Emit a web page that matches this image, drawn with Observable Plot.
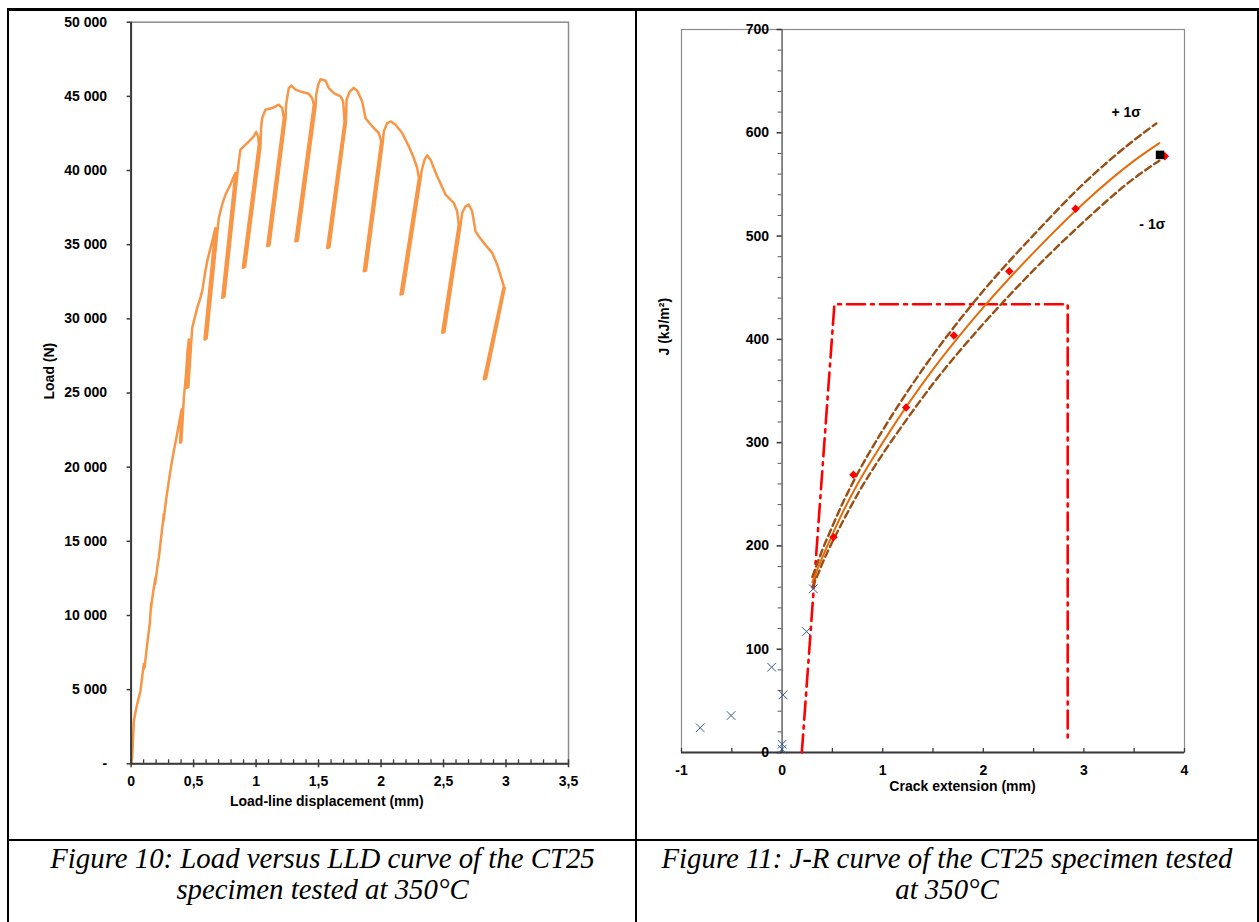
<!DOCTYPE html>
<html><head><meta charset="utf-8">
<script src="https://cdn.jsdelivr.net/npm/d3@7"></script>
<script src="https://cdn.jsdelivr.net/npm/@observablehq/plot@0.6"></script>
<style>
html,body{margin:0;padding:0;background:#fff;}
body{width:1259px;height:922px;position:relative;overflow:hidden;font-family:"Liberation Sans",Arial,sans-serif;}
.line{position:absolute;background:#000;z-index:2;}
.cap{position:absolute;font-family:"Liberation Serif","Times New Roman",serif;font-style:italic;font-size:28.8px;line-height:31px;text-align:center;color:#000;}
.chart{position:absolute;top:0;}
.chart svg{display:block;max-width:none;}
</style></head><body>
<div class="line" style="left:7px;top:8px;width:1252px;height:3px"></div>
<div class="line" style="left:7px;top:8px;width:2px;height:914px"></div>
<div class="line" style="left:635px;top:8px;width:2px;height:914px"></div>
<div class="line" style="left:7px;top:839px;width:1252px;height:2px"></div>
<div class="line" style="left:1257px;top:8px;width:2px;height:914px"></div>
<div id="left" class="chart" style="left:0;width:636px"></div>
<div id="right" class="chart" style="left:636px;width:623px"></div>
<div class="cap" style="left:9px;width:627px;top:843px">Figure 10: Load versus LLD curve of the CT25<br>specimen tested at 350°C</div>
<div class="cap" style="left:637px;width:620px;top:843px">Figure 11: J-R curve of the CT25 specimen tested<br>at 350°C</div>
<script>
// ---------- Figure 10 data: load vs load-line displacement ----------
const lldX = [0.000,0.009,0.022,0.045,0.075,0.095,0.102,0.098,0.108,0.129,0.150,0.160,0.156,0.175,0.195,0.192,0.212,0.222,0.245,0.262,0.258,0.280,0.302,0.325,0.342,0.365,0.382,0.405,0.392,0.402,0.422,0.440,0.450,0.462,0.445,0.458,0.475,0.489,0.510,0.529,0.550,0.569,0.590,0.609,0.630,0.649,0.675,0.587,0.605,0.692,0.702,0.729,0.755,0.795,0.822,0.835,0.729,0.747,0.850,0.862,0.875,0.929,0.982,1.001,1.017,1.022,0.894,0.912,1.035,1.040,1.049,1.075,1.129,1.182,1.209,1.222,1.089,1.107,1.236,1.240,1.262,1.281,1.316,1.369,1.422,1.449,1.462,1.315,1.333,1.476,1.481,1.497,1.516,1.556,1.582,1.622,1.676,1.697,1.708,1.569,1.587,1.720,1.724,1.750,1.782,1.809,1.849,1.876,1.929,1.982,2.001,1.862,1.880,2.014,2.022,2.049,2.081,2.116,2.169,2.222,2.262,2.289,2.303,2.156,2.174,2.316,2.324,2.348,2.369,2.396,2.449,2.516,2.582,2.609,2.622,2.489,2.507,2.636,2.649,2.676,2.702,2.729,2.756,2.782,2.822,2.889,2.929,2.970,2.982,2.822,2.840,2.990];
const lldLoad = [0,440,2900,3900,4930,6300,6730,6350,6500,8080,9500,10800,10300,11500,12560,12100,13400,13910,15600,16830,16300,17800,19080,20300,21090,22100,22890,23900,21650,21700,24680,26300,27700,28600,25350,25400,27600,29400,30100,30740,31300,31870,33000,33890,34600,35230,36130,28600,28700,36000,36810,37710,38380,39050,39610,39830,31420,31500,39700,40620,41410,41850,42300,42600,42300,41740,33440,33500,41600,42860,43540,44100,44210,44440,44210,43540,34900,34950,43500,44440,45560,45720,45450,45290,45180,44880,44440,35230,35280,44300,45110,45780,46160,46050,45560,45220,45000,44660,43310,34780,34830,43300,44770,45330,45560,45380,44660,43530,42980,42530,41970,33210,33260,41900,42640,43200,43310,43090,42530,41630,40840,40170,39500,31640,31690,39400,39950,40730,41020,40730,39610,38380,37810,37250,36360,29060,29110,36300,37140,37590,37700,37250,35900,35570,35120,34450,33670,32540,32200,25920,25970,32100];
const loadTicks = [0,5000,10000,15000,20000,25000,30000,35000,40000,45000,50000];
const loadTickLabels = ["-","5 000","10 000","15 000","20 000","25 000","30 000","35 000","40 000","45 000","50 000"];
const lldTicks = [0,0.5,1,1.5,2,2.5,3,3.5];
const lldTickLabels = ["0","0,5","1","1,5","2","2,5","3","3,5"];
const lldMinorTicks = [0.1,0.2,0.3,0.4,0.6,0.7,0.8,0.9,1.1,1.2,1.3,1.4,1.6,1.7,1.8,1.9,2.1,2.2,2.3,2.4,2.6,2.7,2.8,2.9,3.1,3.2,3.3,3.4];

// ---------- Figure 11 data: J-R curve ----------
const fitX   = [0.30,0.35,0.40,0.50,0.60,0.75,1.00,1.25,1.50,1.75,2.00,2.50,3.00,3.50,3.75];
const fitJ   = [165,177,189,211,232,260,300,337,371,402,431,484,532,573,590];
const upperX = [0.30,0.35,0.40,0.50,0.60,0.75,1.00,1.25,1.50,1.75,2.00,2.50,3.00,3.50,3.72];
const upperJ = [170,183,196,219,241,270,312,350,385,417,447,501,551,593,609];
const lowerX = [0.30,0.35,0.40,0.50,0.60,0.75,1.00,1.25,1.50,1.75,2.00,2.50,3.00,3.50,3.75];
const lowerJ = [160,171,183,204,223,250,289,324,357,387,415,467,514,556,573];
const validX = [0.511,0.709,1.233,1.707,2.258,2.917,3.805];
const validJ = [208.5,269,334,403.7,466,526.4,577.3];
const bluntX = [-0.814,-0.507,-0.104,0.01,0,0,0.243,0.31];
const bluntJ = [23.9,35.8,82.6,55.8,8,3.2,117,158.5];
const lastX = [3.757];
const lastJ = [578.6];
const limitX = [0.196,0.52,2.839,2.839];
const limitJ = [0,434,434,9];
const sigmaLabels = ["+ 1σ","- 1σ"];
const sigmaX = [3.42,3.68];
const sigmaJ = [619.6,511];
const jTicks = [0,100,200,300,400,500,600,700];
const jMinorTicks = [20,40,60,80,120,140,160,180,220,240,260,280,320,340,360,380,420,440,460,480,520,540,560,580,620,640,660,680];
const daTicks = [-1,0,1,2,3,4];
const daHalfTicks = [-1,-0.5,0,0.5,1,1.5,2,2.5,3,3.5,4];

const font = {fontFamily: "'Liberation Sans', Arial, sans-serif", fontSize: "14px", fontWeight: "bold", background: "transparent", color: "#000", overflow: "visible"};
const zip = (xs, ys) => xs.map((x, i) => ({x, y: ys[i]}));

// ---------- left chart ----------
const left = Plot.plot({
  width: 636, height: 830,
  marginLeft: 130.6, marginRight: 68, marginTop: 21.7, marginBottom: 66.7,
  x: {domain: [0, 3.5], axis: null},
  y: {domain: [0, 50000], axis: null},
  style: font,
  marks: [
    Plot.frame({stroke: "#8c8c8c", strokeWidth: 1.5}),
    Plot.line(zip(lldX, lldLoad), {x: "x", y: "y", stroke: "#F79646", strokeWidth: 2.5, strokeLinejoin: "round"}),
    Plot.ruleY([0], {stroke: "#3a3a3a", strokeWidth: 2}),
    Plot.ruleX([0], {stroke: "#3a3a3a", strokeWidth: 2}),
    Plot.ruleY(loadTicks, {y: d => d, x1: 0, x2: 0, insetLeft: -4, stroke: "#3a3a3a", strokeWidth: 1.5}),
    Plot.ruleX(lldMinorTicks, {x: d => d, y1: 0, y2: 0, insetTop: -4, stroke: "#3a3a3a", strokeWidth: 1.3}),
    Plot.ruleX(lldTicks, {x: d => d, y1: 0, y2: 0, insetTop: -4, insetBottom: -4, stroke: "#3a3a3a", strokeWidth: 1.5}),
    Plot.text(loadTicks, {x: 0, y: d => d, text: (d, i) => loadTickLabels[i], textAnchor: "end", dx: -24}),
    Plot.text(lldTicks, {x: d => d, y: 0, text: (d, i) => lldTickLabels[i], dy: 18}),
    Plot.text(["Load-line displacement (mm)"], {frameAnchor: "bottom", dy: 42, dx: -23}),
    Plot.text(["Load (N)"], {frameAnchor: "left", rotate: -90, dx: -81.6, dy: 6.5})
  ]
});
document.getElementById("left").append(left);

// ---------- right chart ----------
const right = Plot.plot({
  width: 623, height: 830,
  marginLeft: 45, marginRight: 75, marginTop: 29, marginBottom: 78,
  x: {domain: [-1, 4], axis: null},
  y: {domain: [0, 700], axis: null},
  style: font,
  marks: [
    Plot.frame({stroke: "#8c8c8c", strokeWidth: 1.2}),
    Plot.ruleY([0], {stroke: "#3a3a3a", strokeWidth: 2}),
    Plot.ruleX([0], {y1: 0, y2: 700, stroke: "#6e6e6e", strokeWidth: 1.6}),
    Plot.ruleY(jMinorTicks, {y: d => d, x1: 0, x2: 0, insetLeft: -4, stroke: "#555", strokeWidth: 1}),
    Plot.ruleY(jTicks, {y: d => d, x1: 0, x2: 0, insetLeft: -5, stroke: "#333", strokeWidth: 1.5}),
    Plot.ruleX(daHalfTicks, {x: d => d, y1: 0, y2: 0, insetTop: -4, stroke: "#3a3a3a", strokeWidth: 1.3}),
    Plot.text(jTicks, {x: 0, y: d => d, text: d => String(d), textAnchor: "end", dx: -13}),
    Plot.text(daTicks, {x: d => d, y: 0, text: d => String(d), dy: 18}),
    Plot.line(zip(limitX, limitJ), {x: "x", y: "y", stroke: "#FF0000", strokeWidth: 2.6, strokeDasharray: "18,6,3,6"}),
    Plot.line(zip(upperX, upperJ), {x: "x", y: "y", stroke: "#9A4F12", strokeWidth: 2.4, strokeDasharray: "7,4", curve: "monotone-x"}),
    Plot.line(zip(lowerX, lowerJ), {x: "x", y: "y", stroke: "#9A4F12", strokeWidth: 2.4, strokeDasharray: "7,4", curve: "monotone-x"}),
    Plot.line(zip(fitX, fitJ), {x: "x", y: "y", stroke: "#E46C0A", strokeWidth: 2, curve: "monotone-x"}),
    Plot.dot(zip(bluntX, bluntJ), {x: "x", y: "y", symbol: "times", r: 4, stroke: "#2E5B9A", strokeWidth: 1}),
    Plot.dot(zip(validX, validJ), {x: "x", y: "y", symbol: "diamond2", r: 3.8, fill: "#FF0000", stroke: "none"}),
    Plot.dot(zip(lastX, lastJ), {x: "x", y: "y", symbol: "square", r: 4.8, fill: "#000"}),
    Plot.text(sigmaLabels, {x: (d, i) => sigmaX[i], y: (d, i) => sigmaJ[i], text: d => d}),
    Plot.text(["Crack extension (mm)"], {frameAnchor: "bottom", dy: 38, dx: 29.5}),
    Plot.text(["J (kJ/m²)"], {frameAnchor: "left", rotate: -90, dx: -17, dy: -35.5})
  ]
});
document.getElementById("right").append(right);
</script>
</body></html>
